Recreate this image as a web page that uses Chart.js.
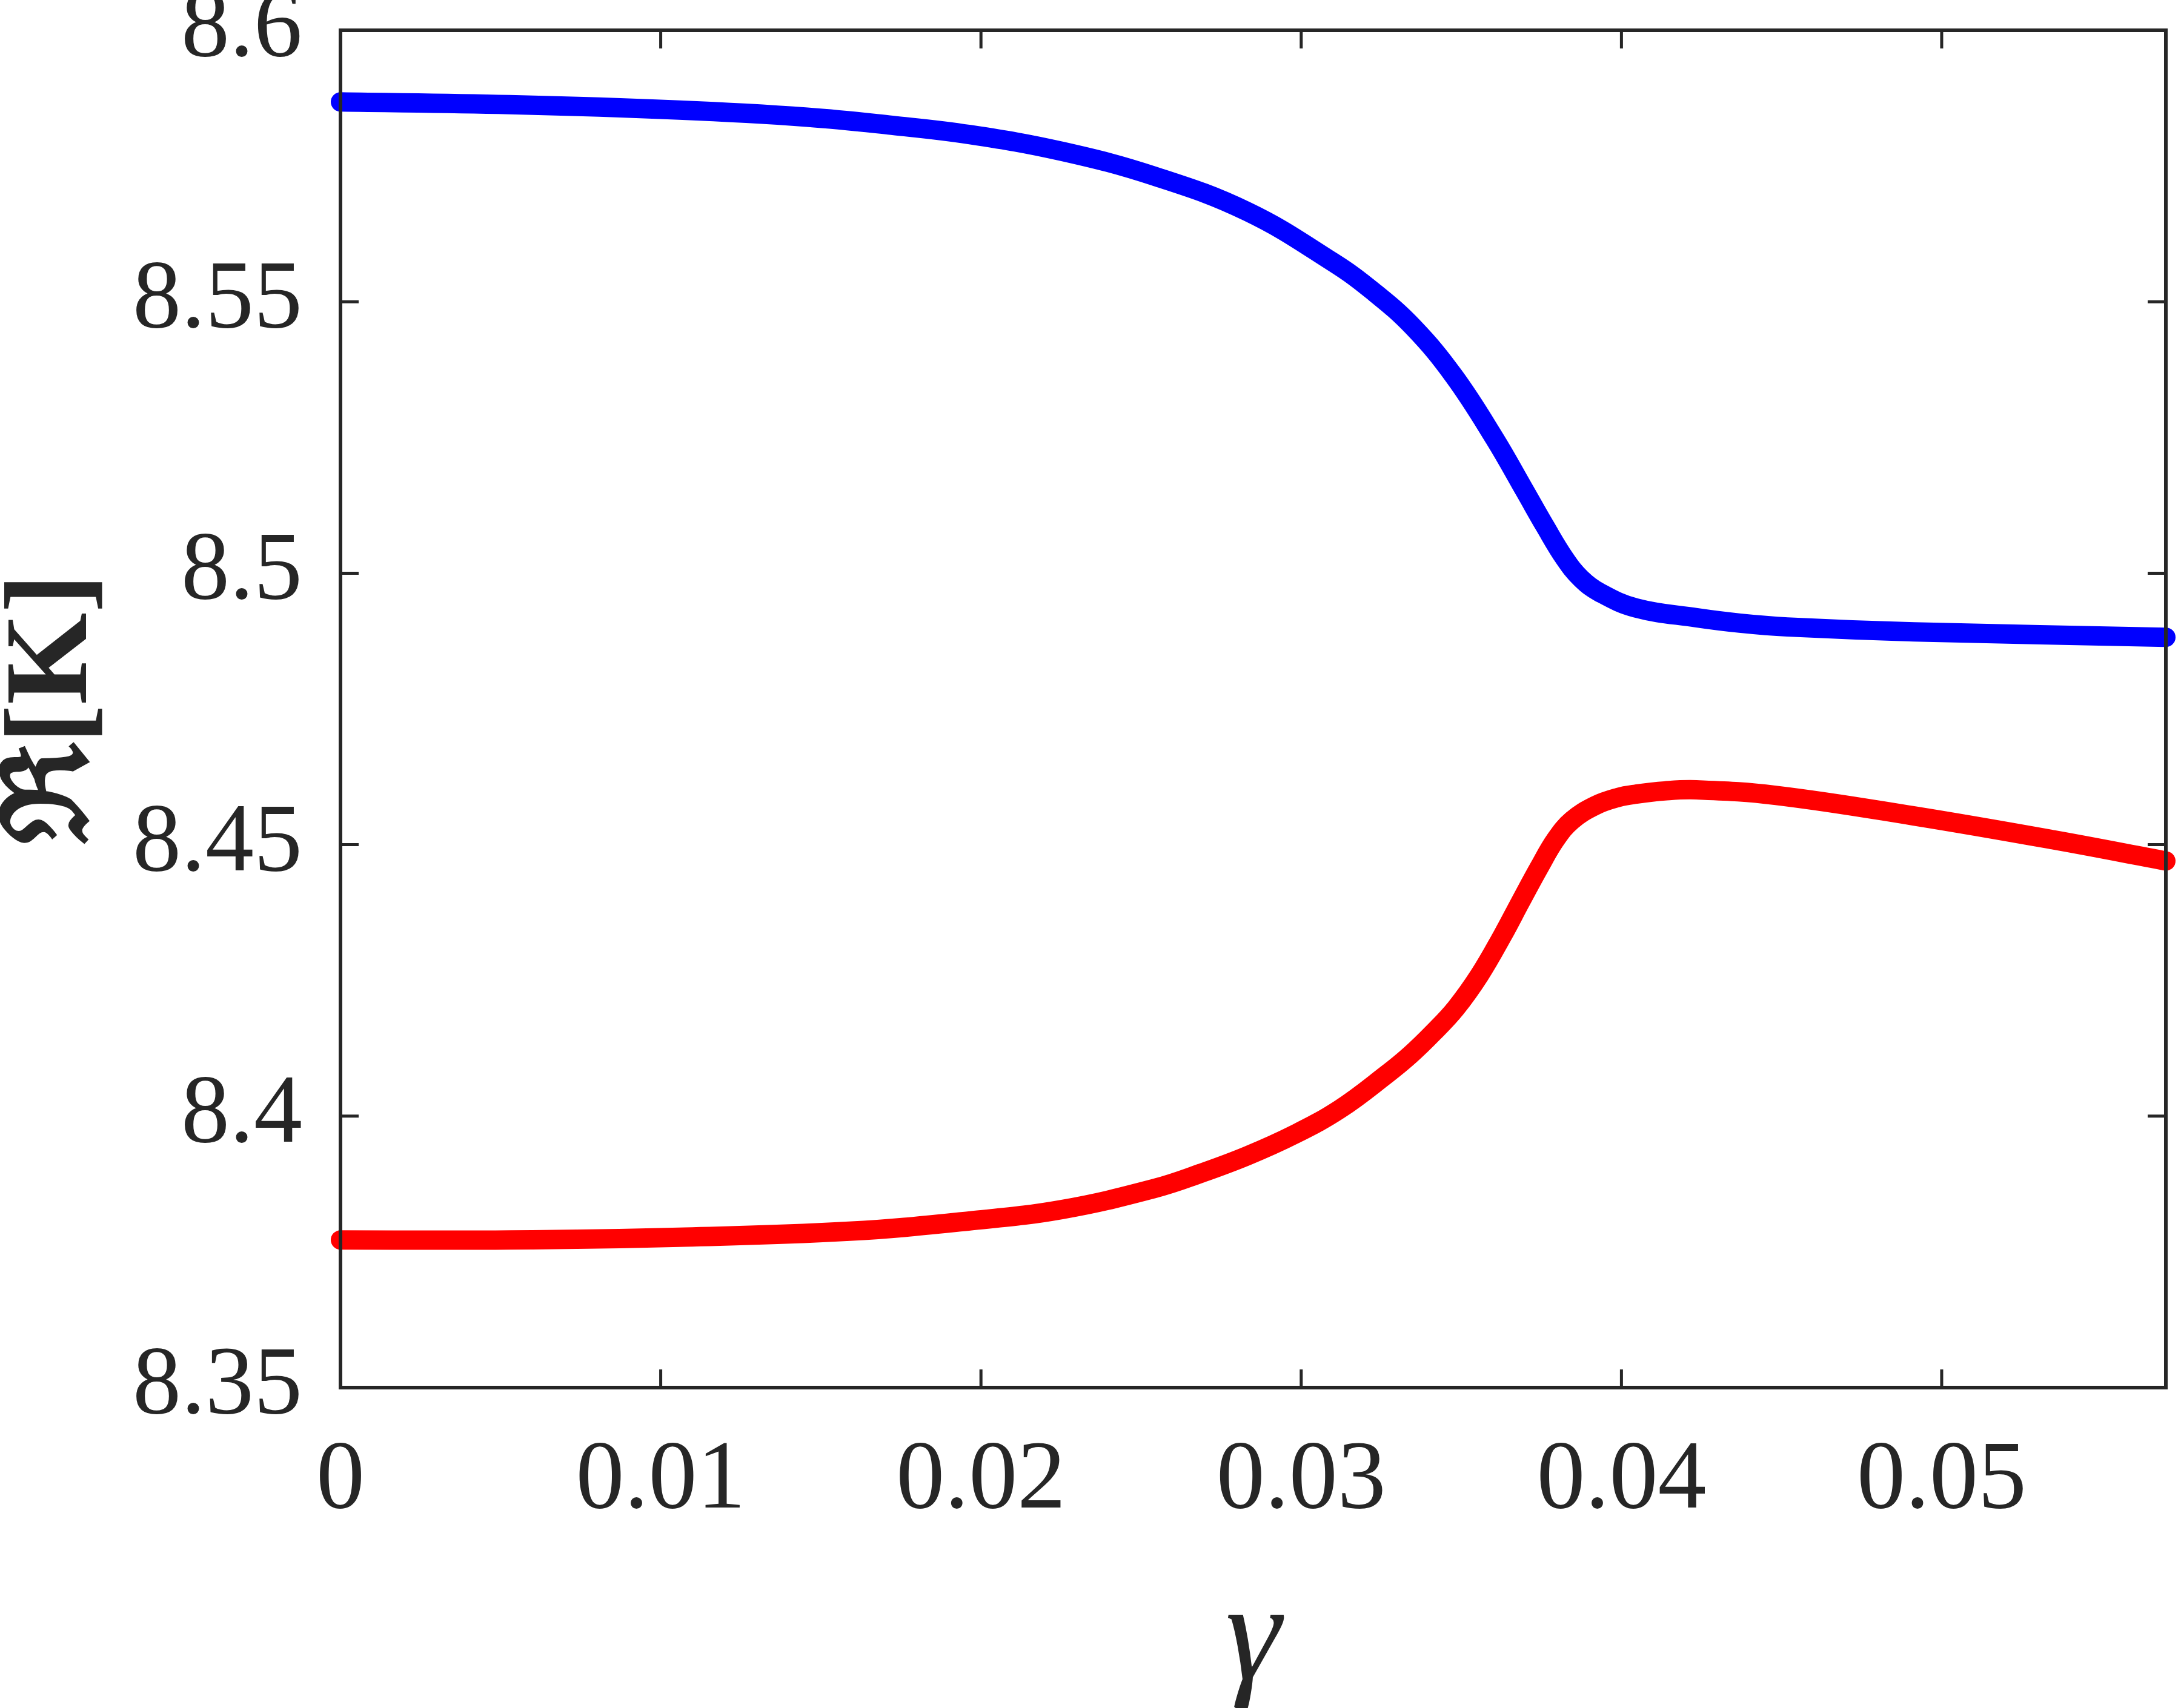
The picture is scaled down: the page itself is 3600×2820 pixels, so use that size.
<!DOCTYPE html>
<html>
<head>
<meta charset="utf-8">
<script src="https://cdn.jsdelivr.net/npm/chart.js@4.4.1/dist/chart.umd.min.js"></script>
<style>
  body { margin: 0; background: #fff; }
</style>
</head>
<body>
<canvas id="myChart" width="3600" height="2820"></canvas>
<script>
// values
var gammaBlue = [0, 0.00528, 0.01058, 0.01457, 0.01722, 0.01964, 0.02253, 0.02543, 0.02832, 0.03099, 0.03225, 0.0335, 0.03477, 0.03604, 0.03698, 0.03761, 0.03823, 0.03874, 0.03931, 0.04045, 0.04234, 0.0437, 0.04518, 0.04913, 0.057];
var reBlue = [8.5868, 8.5863, 8.5853, 8.584, 8.5825, 8.5808, 8.5777, 8.5731, 8.5666, 8.5573, 8.5519, 8.5453, 8.5363, 8.5248, 8.5152, 8.5087, 8.5027, 8.499, 8.4965, 8.4936, 8.4918, 8.4908, 8.4901, 8.4892, 8.4882];

var gammaRed = [0, 0.00528, 0.01058, 0.01589, 0.01964, 0.02253, 0.02543, 0.02688, 0.02832, 0.02978, 0.03121, 0.03267, 0.03339, 0.03411, 0.03483, 0.03557, 0.03628, 0.03685, 0.03744, 0.03795, 0.03846, 0.03918, 0.0399, 0.04045, 0.04135, 0.04234, 0.0448, 0.04913, 0.05348, 0.057];
var reRed = [8.3772, 8.3772, 8.3777, 8.3788, 8.3807, 8.3828, 8.3867, 8.3895, 8.3927, 8.3966, 8.4013, 8.4077, 8.4112, 8.4153, 8.4199, 8.426, 8.4332, 8.4395, 8.4459, 8.451, 8.4545, 8.4572, 8.4587, 8.4593, 8.4599, 8.4601, 8.4591, 8.4553, 8.4509, 8.447];

var xTicks = [0, 0.01, 0.02, 0.03, 0.04, 0.05];
var xTickLabels = ['0', '0.01', '0.02', '0.03', '0.04', '0.05'];
var yTicks = [8.35, 8.4, 8.45, 8.5, 8.55, 8.6];
var yTickLabels = ['8.35', '8.4', '8.45', '8.5', '8.55', '8.6'];

function toPoints(xs, ys) {
  return xs.map(function (x, i) { return { x: x, y: ys[i] }; });
}

var axisColor = '#262626';
var serif = "'Liberation Serif', 'DejaVu Serif', serif";

// box round the plot with inward ticks on all four sides
var boxPlugin = {
  id: 'box',
  afterDatasetsDraw: function (chart) {
    var ctx = chart.ctx;
    var a = chart.chartArea;
    var sx = chart.scales.x, sy = chart.scales.y;
    var len = 30;
    ctx.save();
    ctx.strokeStyle = axisColor;
    ctx.lineWidth = 5;
    ctx.beginPath();
    xTicks.forEach(function (v) {
      var px = sx.getPixelForValue(v);
      ctx.moveTo(px, a.bottom); ctx.lineTo(px, a.bottom - len);
      ctx.moveTo(px, a.top); ctx.lineTo(px, a.top + len);
    });
    yTicks.forEach(function (v) {
      var py = sy.getPixelForValue(v);
      ctx.moveTo(a.left, py); ctx.lineTo(a.left + len, py);
      ctx.moveTo(a.right, py); ctx.lineTo(a.right - len, py);
    });
    ctx.stroke();
    ctx.lineWidth = 6;
    ctx.strokeRect(a.left, a.top, a.right - a.left, a.bottom - a.top);
    ctx.restore();
  }
};

var ctx = document.getElementById('myChart').getContext('2d');
var myChart = new Chart(ctx, {
  type: 'line',
  data: {
    datasets: [{
      data: toPoints(gammaBlue, reBlue),
      borderColor: '#0000FF',
      borderWidth: 32,
      borderCapStyle: 'round',
      borderJoinStyle: 'round',
      pointRadius: 0,
      tension: 0.4,
      clip: false
    }, {
      data: toPoints(gammaRed, reRed),
      borderColor: '#FF0000',
      borderWidth: 32,
      borderCapStyle: 'round',
      borderJoinStyle: 'round',
      pointRadius: 0,
      tension: 0.4,
      clip: false
    }]
  },
  options: {
    responsive: false,
    devicePixelRatio: 1,
    animation: false,
    layout: { padding: { top: 50, right: 25, left: 0, bottom: 0 } },
    plugins: {
      legend: { display: false },
      tooltip: { enabled: false }
    },
    scales: {
      x: {
        type: 'linear',
        min: 0,
        max: 0.057,
        afterBuildTicks: function (s) { s.ticks = xTicks.map(function (v) { return { value: v }; }); },
        afterFit: function (s) {
          s.height = 529;
          s.paddingLeft = 0;
          s.paddingRight = 0;
        },
        grid: { display: false, drawTicks: false },
        border: { display: false },
        ticks: {
          padding: 60,
          color: axisColor,
          maxRotation: 0,
          autoSkip: false,
          font: { family: serif, size: 160 },
          callback: function (v, i) { return xTickLabels[i]; }
        },
        title: {
          display: true,
          text: 'γ',
          color: axisColor,
          padding: { top: 0, bottom: 16 },
          font: { family: serif, size: 232, style: 'italic', lineHeight: 0.8 }
        }
      },
      y: {
        type: 'linear',
        min: 8.35,
        max: 8.6,
        afterBuildTicks: function (s) { s.ticks = yTicks.map(function (v) { return { value: v }; }); },
        afterFit: function (s) {
          s.width = 562;
          s.paddingTop = 0;
          s.paddingBottom = 0;
        },
        grid: { display: false, drawTicks: false },
        border: { display: false },
        ticks: {
          padding: 63,
          color: axisColor,
          autoSkip: false,
          font: { family: serif, size: 160 },
          callback: function (v, i) { return yTickLabels[i]; }
        },
        title: {
          display: true,
          text: 'ℜ[K]',
          color: axisColor,
          padding: { top: 14, bottom: 0 },
          font: { family: serif, size: 195, weight: 'bold', lineHeight: 0.8 }
        }
      }
    }
  },
  plugins: [boxPlugin]
});
</script>
</body>
</html>
